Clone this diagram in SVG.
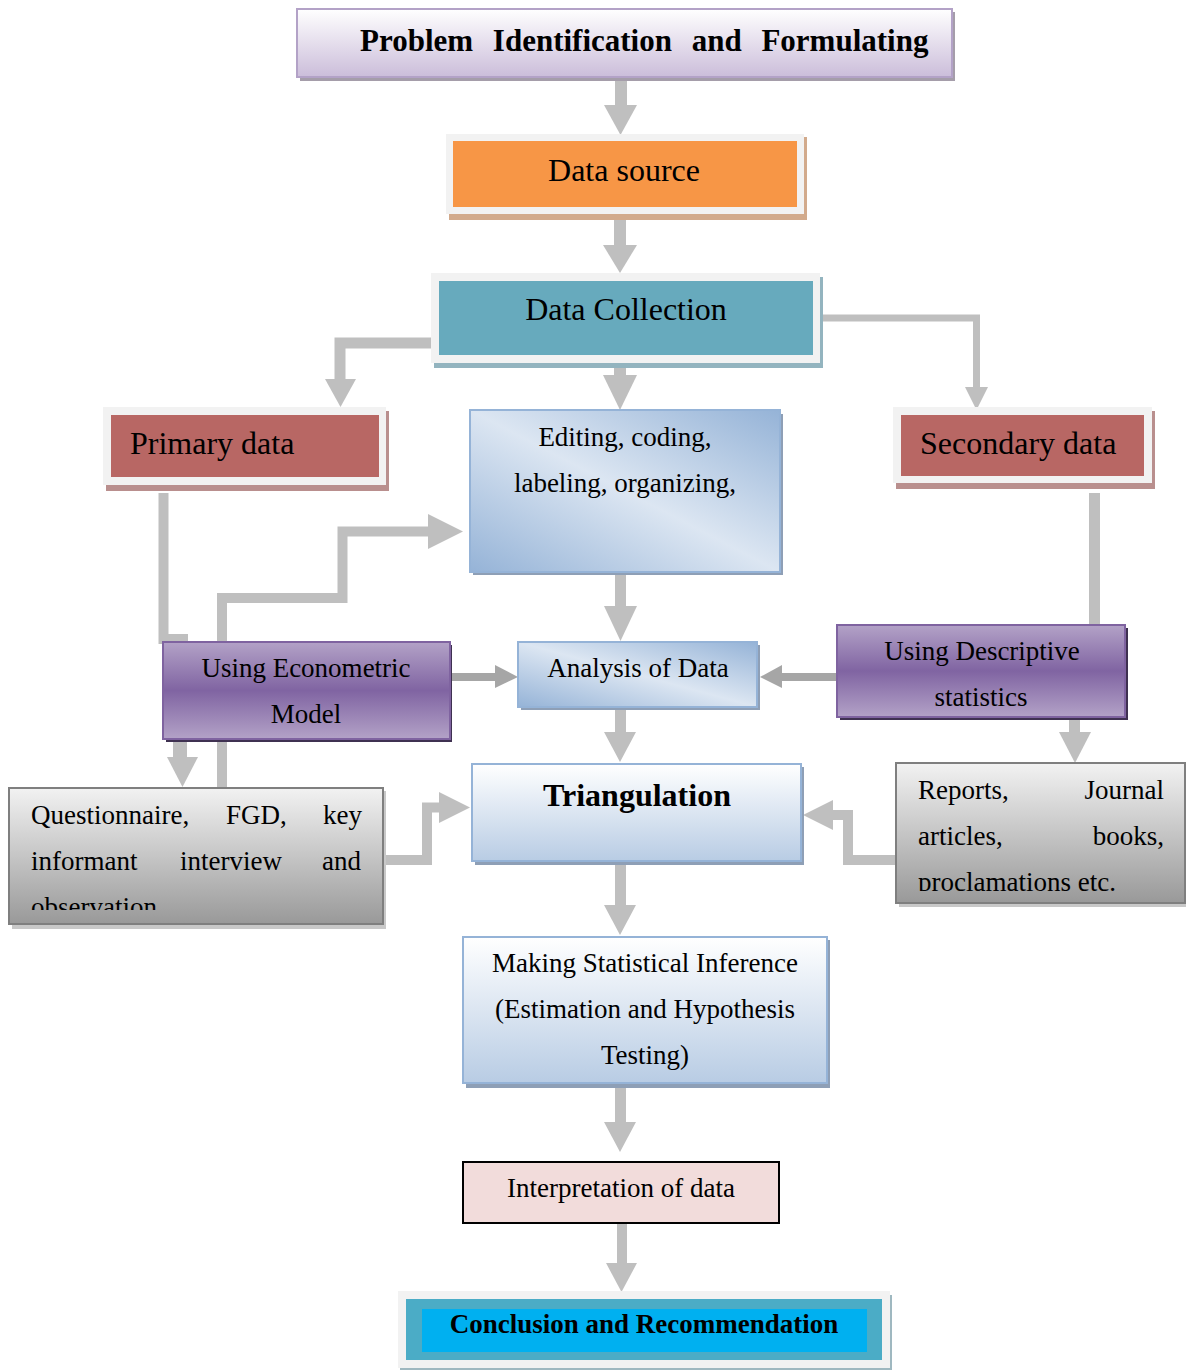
<svg xmlns="http://www.w3.org/2000/svg" width="1186" height="1370" viewBox="0 0 1186 1370">
<defs>
<linearGradient id="gTitle" x1="0" y1="0" x2="0" y2="1"><stop offset="0" stop-color="#ffffff"/><stop offset="1" stop-color="#cbbdda"/></linearGradient>
<linearGradient id="gDiag" x1="0" y1="1" x2="1" y2="0"><stop offset="0" stop-color="#95b3d7"/><stop offset="0.5" stop-color="#dce6f2"/><stop offset="1" stop-color="#95b3d7"/></linearGradient>
<linearGradient id="gVBlue" x1="0" y1="0" x2="0" y2="1"><stop offset="0" stop-color="#ffffff"/><stop offset="1" stop-color="#b8cce4"/></linearGradient>
<linearGradient id="gPurple" x1="0" y1="0" x2="0" y2="1"><stop offset="0" stop-color="#b3a2c7"/><stop offset="0.5" stop-color="#8064a2"/><stop offset="1" stop-color="#b3a2c7"/></linearGradient>
<linearGradient id="gGray" x1="0" y1="0" x2="0" y2="1"><stop offset="0" stop-color="#f2f2f2"/><stop offset="1" stop-color="#999999"/></linearGradient>
<clipPath id="cQ"><rect x="9" y="788" width="374" height="122"/></clipPath>
<clipPath id="cR"><rect x="896" y="763" width="289" height="128"/></clipPath>
<style>
text{font-family:"Liberation Serif","Times New Roman",serif;fill:#000}
.t27{font-size:27px}
.t32{font-size:32px}
.b{font-weight:bold}
.mid{text-anchor:middle}
.end{text-anchor:end}
.ln{fill:none;stroke:#bfbfbf}
.hd{fill:#bfbfbf}
.dk{fill:#a6a6a6}
.frame{fill:#f2f2f2}
</style>
</defs>
<g id="connectors">
<rect class="hd" x="615" y="77" width="12" height="29"/><polygon class="hd" points="604,105 637,105 620.5,135"/>
<rect class="hd" x="614" y="214" width="12" height="32"/><polygon class="hd" points="603,245 637,245 620,273"/>
<rect class="hd" x="614" y="360" width="12" height="16"/><polygon class="hd" points="603,375 637,375 620,410"/>
<path class="ln" stroke-width="11" d="M431 343 H340 V380"/><polygon class="hd" points="325,379 356,379 340.5,407"/>
<path class="ln" stroke-width="7" d="M820 318 H976.5 V388"/><polygon class="hd" points="965,387 988,387 976.5,410"/>
<rect class="hd" x="615" y="572" width="11" height="35"/><polygon class="hd" points="604,606 637,606 620.5,641"/>
<path class="ln" stroke-width="10" d="M163.5 493 V639 H188"/>
<rect class="hd" x="173" y="738" width="14" height="20"/><polygon class="hd" points="167,757 198,757 182.5,787"/>
<path class="ln" stroke-width="10" d="M222 788 V598 H342.5 V531.5 H430"/><polygon class="hd" points="428,514 428,549 463,531.5"/>
<rect class="dk" x="450" y="673" width="47" height="8"/><polygon class="dk" points="495,665 495,688 518,677"/>
<rect class="dk" x="781" y="673" width="57" height="8"/><polygon class="dk" points="782,665 782,688 760,677"/>
<rect class="hd" x="615" y="707" width="11" height="27"/><polygon class="hd" points="604,732 636,732 620,762"/>
<rect class="hd" x="1089" y="493" width="11" height="132"/>
<rect class="hd" x="1069" y="717" width="11" height="17"/><polygon class="hd" points="1059,732 1091,732 1075,763"/>
<path class="ln" stroke-width="10" d="M383 860 H427 V807.5 H440"/><polygon class="hd" points="439,792 439,823 470,807.5"/>
<path class="ln" stroke-width="10" d="M896 860 H848 V815 H833"/><polygon class="hd" points="833,800 833,830 803,815"/>
<rect class="hd" x="615" y="861" width="11" height="45"/><polygon class="hd" points="604,905 636,905 620,935"/>
<rect class="hd" x="615" y="1083" width="11" height="40"/><polygon class="hd" points="604,1122 636,1122 620,1152"/>
<rect class="hd" x="617" y="1224" width="10" height="40"/><polygon class="hd" points="606,1263 637,1263 621.5,1292"/>
</g>
<g id="n-title">
<rect x="300" y="12" width="655" height="69" fill="#a59daa"/>
<rect x="297" y="9" width="655" height="68" fill="url(#gTitle)" stroke="#b3a2c7" stroke-width="2"/>
<text class="b" x="360" y="51" font-size="31" word-spacing="12">Problem Identification and Formulating</text>
</g>
<g id="n-datasource">
<rect x="449" y="137" width="358" height="83" fill="#d2aa8c"/>
<rect class="frame" x="446" y="134" width="358" height="80"/>
<rect x="453" y="141" width="344" height="66" fill="#f79646"/>
<text class="t32 mid" x="624" y="181">Data source</text>
</g>
<g id="n-datacollection">
<rect x="434" y="277" width="389" height="91" fill="#93b4bf"/>
<rect class="frame" x="431" y="273" width="389" height="90"/>
<rect x="439" y="281" width="374" height="74" fill="#67aabd"/>
<text class="t32 mid" x="626" y="320">Data Collection</text>
</g>
<g id="n-primary">
<rect x="106" y="411" width="283" height="80" fill="#b98f8e"/>
<rect class="frame" x="103" y="407" width="283" height="78"/>
<rect x="111" y="415" width="268" height="62" fill="#b86764"/>
<text class="t32" x="130" y="454">Primary data</text>
</g>
<g id="n-secondary">
<rect x="896" y="411" width="259" height="78" fill="#b98f8e"/>
<rect class="frame" x="893" y="407" width="259" height="76"/>
<rect x="901" y="415" width="243" height="61" fill="#b86764"/>
<text class="t32" x="920" y="454">Secondary data</text>
</g>
<g id="n-editing">
<rect x="473" y="414" width="310" height="161" fill="#8e9fb6"/>
<rect x="470" y="410" width="310" height="162" fill="url(#gDiag)" stroke="#95b3d7" stroke-width="2"/>
<text class="t27 mid" x="625" y="446">Editing, coding,</text>
<text class="t27 mid" x="625" y="492">labeling, organizing,</text>
</g>
<g id="n-econometric">
<rect x="166" y="645" width="286" height="97" fill="#3f3151"/>
<rect x="163" y="642" width="287" height="97" fill="url(#gPurple)" stroke="#7f63a0" stroke-width="2"/>
<text class="t27 mid" x="306" y="677">Using Econometric</text>
<text class="t27 mid" x="306" y="723">Model</text>
</g>
<g id="n-analysis">
<rect x="521" y="645" width="239" height="65" fill="#8e9fb6"/>
<rect x="518" y="642" width="239" height="65" fill="url(#gDiag)" stroke="#95b3d7" stroke-width="2"/>
<text class="t27 mid" x="638" y="677">Analysis of Data</text>
</g>
<g id="n-descriptive">
<rect x="840" y="628" width="288" height="92" fill="#3f3151"/>
<rect x="837" y="625" width="288" height="92" fill="url(#gPurple)" stroke="#7f63a0" stroke-width="2"/>
<text class="t27 mid" x="982" y="660">Using Descriptive</text>
<text class="t27 mid" x="981" y="706">statistics</text>
</g>
<g id="n-triangulation">
<rect x="475" y="767" width="329" height="98" fill="#8e9fb6"/>
<rect x="472" y="764" width="329" height="97" fill="url(#gVBlue)" stroke="#95b3d7" stroke-width="2"/>
<text class="b mid" x="637" y="806" font-size="32">Triangulation</text>
</g>
<g id="n-questionnaire">
<rect x="12" y="791" width="374" height="138" fill="#c8c8c8"/>
<rect x="9" y="788" width="374" height="136" fill="url(#gGray)" stroke="#7f7f7f" stroke-width="2"/>
<g clip-path="url(#cQ)">
<text class="t27" x="31" y="824">Questionnaire,</text>
<text class="t27" x="226" y="824">FGD,</text>
<text class="t27 end" x="362" y="824">key</text>
<text class="t27" x="31" y="870">informant</text>
<text class="t27" x="180" y="870">interview</text>
<text class="t27 end" x="361" y="870">and</text>
<text class="t27" x="31" y="916">observation</text>
</g>
</g>
<g id="n-reports">
<rect x="899" y="766" width="289" height="141" fill="#c8c8c8"/>
<rect x="896" y="763" width="289" height="140" fill="url(#gGray)" stroke="#7f7f7f" stroke-width="2"/>
<g clip-path="url(#cR)">
<text class="t27" x="918" y="799">Reports,</text>
<text class="t27 end" x="1164" y="799">Journal</text>
<text class="t27" x="918" y="845">articles,</text>
<text class="t27 end" x="1164" y="845">books,</text>
<text class="t27" x="918" y="891">proclamations etc.</text>
</g>
</g>
<g id="n-making">
<rect x="466" y="940" width="364" height="148" fill="#8e9fb6"/>
<rect x="463" y="937" width="364" height="146" fill="url(#gVBlue)" stroke="#95b3d7" stroke-width="2"/>
<text class="t27 mid" x="645" y="972">Making Statistical Inference</text>
<text class="t27 mid" x="645" y="1018">(Estimation and Hypothesis</text>
<text class="t27 mid" x="645" y="1064">Testing)</text>
</g>
<g id="n-interpretation">
<rect x="463" y="1162" width="316" height="61" fill="#f2dcdb" stroke="#000" stroke-width="2"/>
<text class="t27 mid" x="621" y="1197">Interpretation of data</text>
</g>
<g id="n-conclusion">
<rect x="400" y="1295" width="492" height="75" fill="#9fb8c0"/>
<rect class="frame" x="398" y="1291" width="492" height="77"/>
<rect x="406" y="1299" width="476" height="61" fill="#4bacc6"/>
<rect x="422" y="1309" width="445" height="43" fill="#00b0f0"/>
<text class="b mid" x="644" y="1333" font-size="27">Conclusion and Recommendation</text>
</g>
</svg>
